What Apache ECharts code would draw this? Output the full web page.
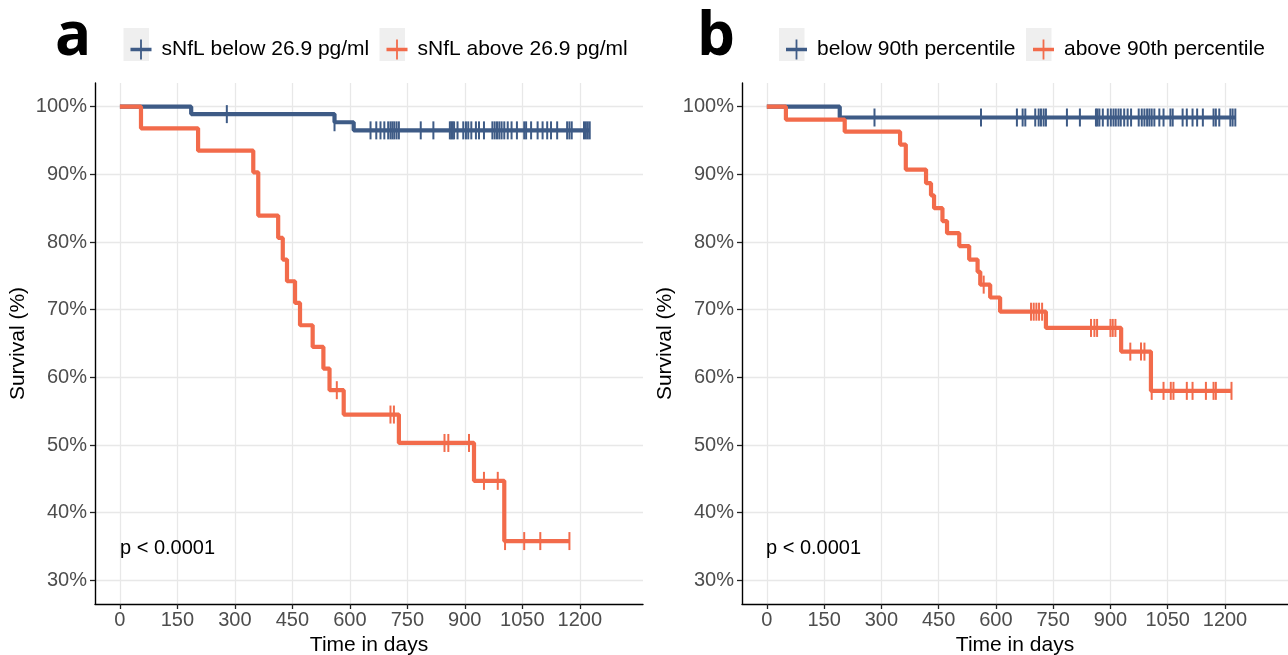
<!DOCTYPE html>
<html><head><meta charset="utf-8">
<script src="https://cdn.jsdelivr.net/npm/echarts@6/dist/echarts.min.js"></script>
<style>html,body{margin:0;padding:0;background:#fff}#chart{width:1288px;height:655px}</style>
</head><body><div id="chart"></div>
<script>
// ---- tick labels ----
const xTicks = [0, 150, 300, 450, 600, 750, 900, 1050, 1200];
const yTicks = [30, 40, 50, 60, 70, 80, 90, 100];

// ---- panel a ----
const aLowName = 'sNfL below 26.9 pg/ml';
const aHighName = 'sNfL above 26.9 pg/ml';
const aLowSteps = [[0,100],[186,98.9],[560,97.7],[610,96.5],[1226,96.5]];
const aLowCensor = [279,560,654,669,680,690,700,706,711,716,722,728,785,818,861,865,868,872,881,896,903,909,917,929,937,950,972,978,984,990,996,1003,1012,1022,1036,1055,1060,1073,1090,1103,1115,1125,1141,1167,1173,1179,1211,1216,1221,1226];
const aHighSteps = [[0,100],[55,96.8],[204,93.5],[348,90.3],[361,83.9],[413,80.6],[425,77.4],[436,74.2],[457,71.0],[470,67.7],[503,64.5],[531,61.3],[547,58.1],[584,54.5],[728,50.3],[924,44.7],[1003,35.8],[1173,35.8]];
const aHighCensor = [566,706,715,847,857,911,950,986,1005,1055,1097,1173];

// ---- panel b ----
const bLowName = 'below 90th percentile';
const bHighName = 'above 90th percentile';
const bLowSteps = [[0,100],[191,98.4],[1227,98.4]];
const bLowCensor = [282,561,655,670,677,703,712,718,725,731,786,820,862,866,871,880,893,901,908,914,921,927,936,945,954,974,982,989,996,1002,1008,1015,1028,1039,1057,1063,1089,1100,1115,1127,1142,1170,1176,1185,1214,1220,1227];
const bHighSteps = [[0,100],[50,98.1],[204,96.3],[349,94.4],[364,90.7],[417,88.7],[430,86.9],[438,85.0],[460,83.1],[472,81.3],[504,79.4],[530,77.4],[552,75.6],[559,73.7],[585,71.8],[611,69.7],[731,67.3],[928,63.8],[1006,58.0],[1217,58.0]];
const bHighCensor = [568,692,699,706,713,721,849,858,865,900,906,913,952,980,989,1008,1039,1058,1065,1100,1115,1150,1170,1176,1217];

const pText = 'p < 0.0001';

const BLUE = '#3e5b86';
const ORANGE = '#f26b4b';
const FONT = '"Liberation Sans", Arial, sans-serif';

// survival level of a step curve at time t (for placing censor marks on the curve)
function levelAt(steps, t) {
  let v = steps[0][1];
  for (const s of steps) { if (s[0] <= t) v = s[1]; }
  return v;
}
function censorPts(steps, times) { return times.map(t => [t, levelAt(steps, t)]); }

function xAxisDef(gi) {
  return {
    type: 'value', gridIndex: gi, min: -65, max: 1365,
    name: 'Time in days', nameLocation: 'middle', nameGap: 26,
    nameTextStyle: { fontSize: 21, color: '#000', fontFamily: FONT },
    axisLine: { show: true, onZero: false, lineStyle: { color: '#000', width: 1.4 } },
    axisTick: { show: true, customValues: xTicks, length: 5, lineStyle: { color: '#222', width: 1.3 } },
    axisLabel: { customValues: xTicks, formatter: v => String(v), fontSize: 20, color: '#4d4d4d', margin: 6, fontFamily: FONT },
    splitLine: { show: true, lineStyle: { color: '#e8e8e8', width: 1.3 } }
  };
}
function yAxisDef(gi) {
  return {
    type: 'value', gridIndex: gi, min: 26.5, max: 103.5,
    name: 'Survival (%)', nameLocation: 'middle', nameGap: 66, nameRotate: 90,
    nameTextStyle: { fontSize: 21, color: '#000', fontFamily: FONT },
    axisLine: { show: true, onZero: false, lineStyle: { color: '#000', width: 1.4 } },
    axisTick: { show: true, customValues: yTicks, length: 5, lineStyle: { color: '#222', width: 1.3 } },
    axisLabel: { customValues: yTicks, formatter: v => v + '%', fontSize: 20, color: '#4d4d4d', margin: 8, fontFamily: FONT },
    splitLine: { show: true, lineStyle: { color: '#e8e8e8', width: 1.3 } }
  };
}
function stepSeries(name, data, color, gi) {
  return { name, type: 'line', step: 'end', xAxisIndex: gi, yAxisIndex: gi, data,
    showSymbol: false, symbol: 'none', lineStyle: { color, width: 4.2 }, itemStyle: { color },
    animation: false, z: 3 };
}
function censorSeries(name, data, color, gi) {
  return { name, type: 'scatter', xAxisIndex: gi, yAxisIndex: gi, data,
    symbol: 'rect', symbolSize: [2, 18], itemStyle: { color, opacity: 1 },
    animation: false, z: 4, silent: true };
}

const plusIcon = 'path://M0,8.2H21V11.8H0Z M9.6,0H11.4V20H9.6Z';
function legendDef(name, left) {
  return { data: [name], left: left, top: 34, icon: plusIcon, itemWidth: 21, itemHeight: 20,
    z: 10, selectedMode: false,
    textStyle: { fontSize: 21, color: '#000', fontFamily: FONT, padding: [0, 0, 0, 5] } };
}
function keyBox(x) {
  return { type: 'rect', shape: { x: x, y: 28, width: 25.5, height: 33 }, style: { fill: '#efefef' }, z: 0 };
}

const chart = echarts.init(document.getElementById('chart'), null, { renderer: 'canvas' });
chart.setOption({
  backgroundColor: '#fff',
  animation: false,
  grid: [
    { left: 95, top: 83, width: 548, height: 521, outerBoundsMode: 'none', containLabel: false },
    { left: 742, top: 83, width: 546, height: 521, outerBoundsMode: 'none', containLabel: false }
  ],
  xAxis: [xAxisDef(0), xAxisDef(1)],
  yAxis: [yAxisDef(0), yAxisDef(1)],
  legend: [
    legendDef(aLowName, 125.5), legendDef(aHighName, 381.5),
    legendDef(bLowName, 781), legendDef(bHighName, 1028)
  ],
  graphic: [
    keyBox(123.5), keyBox(379.5), keyBox(779), keyBox(1026),
    { type: 'text', left: 55, top: 8, z: 5, style: { text: 'a', font: 'bold 60px "Open Sans", sans-serif', fill: '#000' } },
    { type: 'text', left: 697, top: 8, z: 5, style: { text: 'b', font: 'bold 60px "Open Sans", sans-serif', fill: '#000' } },
    { type: 'text', left: 120, top: 538, z: 5, style: { text: pText, font: '20px "Liberation Sans", Arial, sans-serif', fill: '#000' } },
    { type: 'text', left: 766, top: 538, z: 5, style: { text: pText, font: '20px "Liberation Sans", Arial, sans-serif', fill: '#000' } }
  ],
  series: [
    stepSeries(aLowName, aLowSteps, BLUE, 0),
    censorSeries(aLowName, censorPts(aLowSteps, aLowCensor), BLUE, 0),
    stepSeries(aHighName, aHighSteps, ORANGE, 0),
    censorSeries(aHighName, censorPts(aHighSteps, aHighCensor), ORANGE, 0),
    stepSeries(bLowName, bLowSteps, BLUE, 1),
    censorSeries(bLowName, censorPts(bLowSteps, bLowCensor), BLUE, 1),
    stepSeries(bHighName, bHighSteps, ORANGE, 1),
    censorSeries(bHighName, censorPts(bHighSteps, bHighCensor), ORANGE, 1)
  ]
});
</script>
</body></html>
